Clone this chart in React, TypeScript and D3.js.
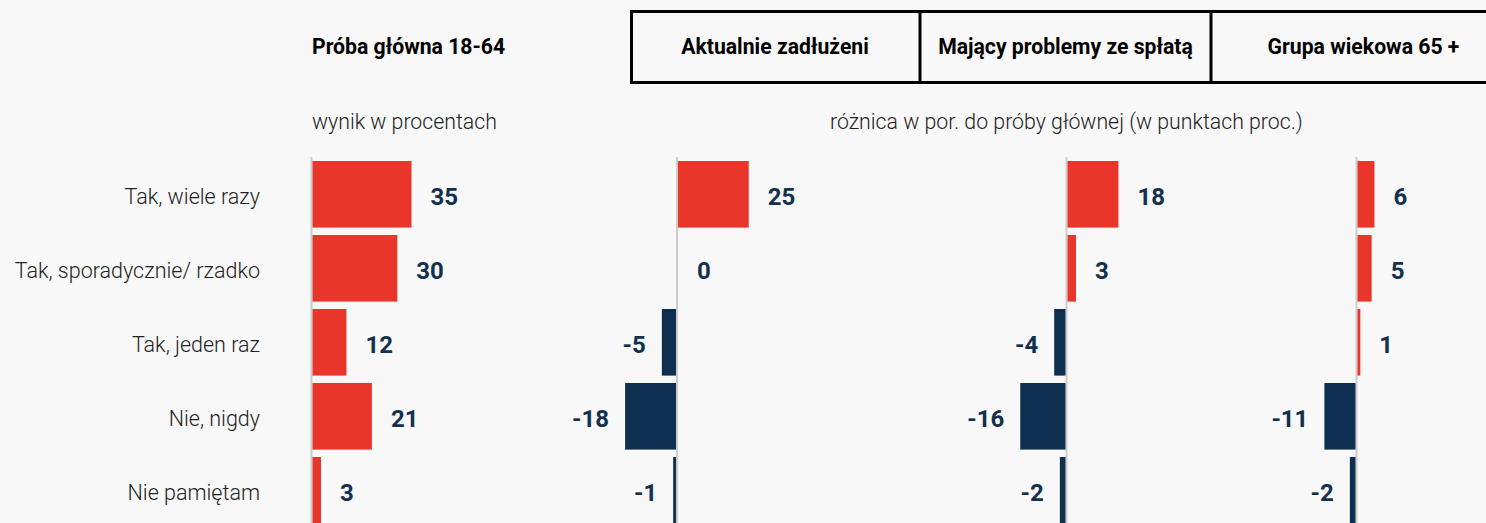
import React from "react";
import * as d3 from "d3";

const categories = ["Tak, wiele razy", "Tak, sporadycznie/ rzadko", "Tak, jeden raz", "Nie, nigdy", "Nie pamiętam"];
const panelTitles = ["Próba główna 18-64", "Aktualnie zadłużeni", "Mający problemy ze spłatą", "Grupa wiekowa 65 +"];
const mainSample = [35, 30, 12, 21, 3];
const indebted = [25, 0, -5, -18, -1];
const repaymentProblems = [18, 3, -4, -16, -2];
const age65plus = [6, 5, 1, -11, -2];
const subtitleMain = "wynik w procentach";
const subtitleDiff = "różnica w por. do próby głównej (w punktach proc.)";

const W = 1486;
const H = 523;
const RED = "#e8372a";
const NAVY = "#0f2f51";
const FONT = "Roboto, 'Noto Sans', sans-serif";

export default function App() {
  const panels = [
    { values: mainSample, axisX: 311.5 },
    { values: indebted, axisX: 677 },
    { values: repaymentProblems, axisX: 1066.5 },
    { values: age65plus, axisX: 1356.5 },
  ];
  const y = d3.scaleBand<string>().domain(categories).range([157.3, 527.3]).paddingInner(0.1).paddingOuter(0.05);
  const len = d3.scaleLinear().domain([0, 35]).range([0, 99]);
  const headerCells = [
    { x0: 630, x1: 920 },
    { x0: 920, x1: 1211 },
    { x0: 1211, x1: 1516 },
  ];

  return (
    <>
      <style>{`body{margin:0;background:#f8f8f8}`}</style>
      <svg width={W} height={H} style={{ display: "block", fontFamily: FONT }}>
        <rect x={0} y={0} width={W} height={H} fill="#f8f8f8" />
        {/* header boxes */}
        <rect x={631.5} y={11.5} width={890} height={71} fill="none" stroke="#000" strokeWidth={3} />
        {headerCells.slice(1).map((c, i) => (
          <line key={i} x1={c.x0} x2={c.x0} y1={11.5} y2={82.5} stroke="#000" strokeWidth={3} />
        ))}
        <text x={312} y={54} fontSize={21.2} fontWeight={700} fill="#000">{panelTitles[0]}</text>
        {headerCells.map((c, i) => (
          <text key={i} x={(c.x0 + c.x1) / 2} y={54} fontSize={21.2} fontWeight={700} fill="#000" textAnchor="middle">
            {panelTitles[i + 1]}
          </text>
        ))}
        <text x={312} y={129} fontSize={21.3} fontWeight={300} fill="#222">{subtitleMain}</text>
        <text x={830} y={129} fontSize={21.3} fontWeight={300} fill="#222">{subtitleDiff}</text>

        {/* category labels */}
        {categories.map((c) => (
          <text key={c} x={260} y={(y(c) as number) + y.bandwidth() / 2 + 2.5} dy="0.35em" fontSize={21.5} fontWeight={300} fill="#222" textAnchor="end">
            {c}
          </text>
        ))}

        {panels.map((p, pi) => (
          <g key={pi}>
            <line x1={p.axisX} x2={p.axisX} y1={157} y2={H} stroke="#cccccc" strokeWidth={2} />
            {p.values.map((v, i) => {
              const c = categories[i];
              const by = y(c) as number;
              const w = len(Math.abs(v));
              const bx = v >= 0 ? p.axisX + 1 : p.axisX - 1 - w;
              const cy = by + y.bandwidth() / 2 + 2;
              const pos = v >= 0;
              const lx = pos ? p.axisX + 1 + w + 19 : p.axisX - 1 - w - 16;
              return (
                <g key={i}>
                  {v !== 0 && <rect x={bx} y={by} width={w} height={y.bandwidth()} fill={pos ? RED : NAVY} />}
                  <text x={lx} y={cy} dy="0.35em" fontSize={24} fontWeight={700} fill="#13304f" textAnchor={pos ? "start" : "end"}>
                    {v}
                  </text>
                </g>
              );
            })}
          </g>
        ))}
      </svg>
    </>
  );
}
